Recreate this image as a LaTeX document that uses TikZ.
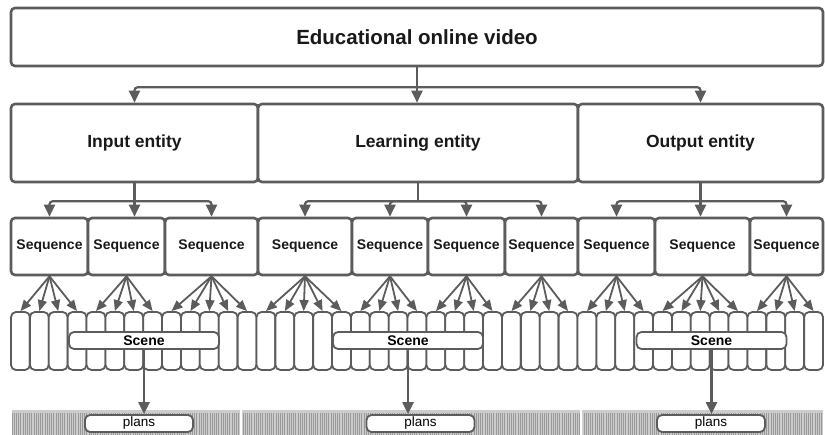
\documentclass[tikz,border=0pt]{standalone}
\usepackage{fontspec}
\setmainfont{Liberation Sans}
\usetikzlibrary{arrows.meta}

\definecolor{edge}{HTML}{5C5C5C}

\begin{document}
\begin{tikzpicture}[x=1pt, y=-1pt,
        box/.style={draw=edge, line width=2.6pt, rounded corners=4pt, fill=white,
                    inner sep=0pt, text=black!90},
        video/.style={box, minimum width=812pt, minimum height=58pt,
                      font=\fontsize{20.5}{24}\selectfont\bfseries},
        entity/.style={box, minimum height=78pt, font=\fontsize{17.5}{21}\selectfont\bfseries},
        seq/.style={box, minimum height=57pt, font=\fontsize{14}{17}\selectfont\bfseries},
        frame/.style={draw=edge, line width=1.8pt, rounded corners=5pt, fill=white,
                      minimum width=18.9pt, minimum height=58pt, inner sep=0pt},
        scene/.style={draw=edge, line width=1.8pt, rounded corners=5pt, fill=white,
                      minimum width=150pt, minimum height=17pt, inner sep=0pt,
                      font=\fontsize{14}{16}\selectfont\bfseries},
        plan/.style={scene, minimum width=108pt, font=\fontsize{13.5}{16}\selectfont},
        link/.style={draw=edge, line width=2.2pt, rounded corners=3pt},
        arr/.style={link, -{Triangle[width=11pt,length=12pt]}},
        fan/.style={draw=edge, line width=1.8pt, -{Triangle[width=9pt,length=11pt]}},
    ]
\useasboundingbox (0,0) rectangle (825,435);

% film strip under the plans
\fill[gray!40] (12,410) rectangle (823,435);
\foreach \x in {12,14.2,...,822}
    \draw[gray!80, line width=0.9pt] (\x,413) -- (\x,435);
\fill[white] (240,410) rectangle (242,435) (580,410) rectangle (582,435);

\node[video] (video) at (417,37) {Educational online video};

\node[entity, minimum width=247pt] (inp) at (134.5,143) {Input entity};
\node[entity, minimum width=320pt] (lrn) at (418,143) {Learning entity};
\node[entity, minimum width=245pt] (out) at (700.5,143) {Output entity};

% sequences: name/centre/width
\foreach \n/\c/\w in {s1/49.5/77, s2/126.5/77, s3/211.5/93, s4/305/94, s5/390/76,
                      s6/466.5/77, s7/541.5/73, s8/616.5/77, s9/702.5/95, s10/786.5/73}
    \node[seq, minimum width=\w pt] (\n) at (\c,246.5) {Sequence};

% single frames
\foreach \k in {0,...,42}
    \node[frame] (f\k) at ({11+18.884*(\k+0.5)},341) {};

\node[scene] (sc1) at (144,340.5) {Scene};
\node[scene] (sc2) at (408,340.5) {Scene};
\node[scene] (sc3) at (711.5,340.5) {Scene};

\node[plan] (p1) at (139,423.5) {plans};
\node[plan] (p2) at (420.5,423.5) {plans};
\node[plan] (p3) at (711,423.5) {plans};

% video -> entities
\draw[link] (video.south) -- ++(0,20) coordinate (j0);
\draw[arr] (j0) -| (inp.north);
\draw[arr] (j0) -| (out.north);
\draw[arr] (video.south) -- (video.south |- lrn.north);

% entities -> sequences
\draw[link] (inp.south) -- ++(0,18) coordinate (j1);
\draw[arr] (j1) -| (s1.north);
\draw[arr] (j1) -| (s3.north);
\draw[arr] (inp.south) -- (inp.south |- s2.north);

\draw[link] (lrn.south) -- ++(0,18) coordinate (j2);
\foreach \n in {s4,s5,s6,s7}
    \draw[arr] (j2) -| (\n.north);

\draw[link] (out.south) -- ++(0,18) coordinate (j3);
\draw[arr] (j3) -| (s8.north);
\draw[arr] (j3) -| (s10.north);
\draw[arr] (out.south) -- (out.south |- s9.north);

% sequences -> frames
\foreach \s/\a/\b in {s1/0/3, s2/4/7, s3/8/12, s4/13/17, s5/18/21,
                      s6/22/25, s7/26/29, s8/30/33, s9/34/38, s10/39/42}
    \foreach \k in {\a,...,\b}
        \draw[fan] (\s.south) -- (f\k.north);

% scenes -> plans
\draw[arr] (sc1.south) -- (sc1.south |- p1.north);
\draw[arr] (sc2.south) -- (sc2.south |- p2.north);
\draw[arr] (sc3.south) -- (sc3.south |- p3.north);

\end{tikzpicture}
\end{document}
